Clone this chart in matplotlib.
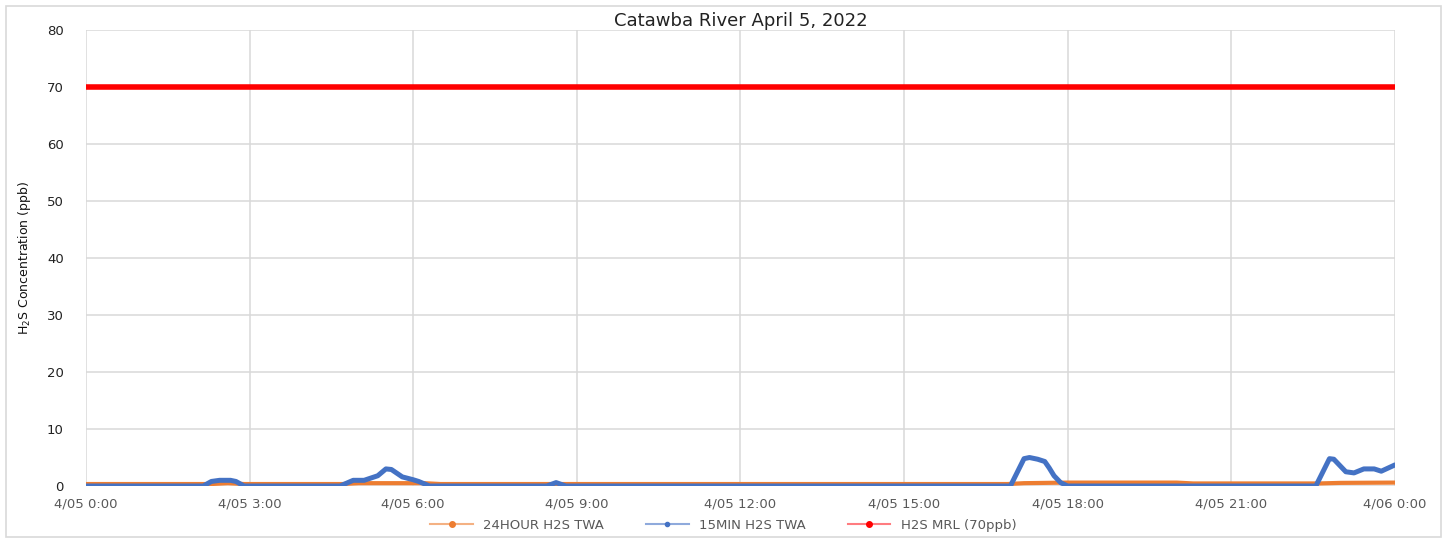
import matplotlib.pyplot as plt
from matplotlib.lines import Line2D
from matplotlib.patches import Rectangle

# hours since 4/05 0:00
twa15_hours = [0, 2.15, 2.3, 2.45, 2.65, 2.75, 2.9, 4.66, 4.9, 5.1, 5.35, 5.5, 5.6,
               5.8, 6.0, 6.1, 6.3, 8.45, 8.62, 8.8, 16.95, 17.2, 17.3, 17.45, 17.58,
               17.66, 17.75, 17.87, 18.0, 22.55, 22.8, 22.88, 23.1, 23.25, 23.43,
               23.62, 23.75, 24.0]
twa15_vals = [0, 0, 0.8, 1.0, 1.0, 0.8, 0, 0, 1.0, 1.0, 1.8, 3.0, 2.9,
              1.6, 1.1, 0.8, 0, 0, 0.6, 0, 0, 4.8, 5.0, 4.7, 4.3,
              3.2, 1.8, 0.6, 0, 0, 4.8, 4.7, 2.5, 2.3, 3.0,
              3.0, 2.6, 3.7]

twa24_hours = [0, 2.3, 2.6, 2.9, 4.7, 5.0, 6.2, 6.5, 16.9, 17.2, 18.0, 20.0, 20.3, 22.6, 23.0, 24.0]
twa24_vals = [0.35, 0.35, 0.5, 0.35, 0.35, 0.5, 0.5, 0.35, 0.35, 0.5, 0.6, 0.6, 0.45, 0.45, 0.55, 0.6]

mrl_hours = [0, 24]
mrl_vals = [70, 70]

xtick_hours = [0, 3, 6, 9, 12, 15, 18, 21, 24]
xtick_labels = ["4/05 0:00", "4/05 3:00", "4/05 6:00", "4/05 9:00", "4/05 12:00",
                "4/05 15:00", "4/05 18:00", "4/05 21:00", "4/06 0:00"]
ytick_vals = [0, 10, 20, 30, 40, 50, 60, 70, 80]

c_orange = "#ED7D31"
c_blue = "#4472C4"
c_red = "#FF0000"
txt = "#595959"

fig = plt.figure(figsize=(14.47, 5.39), dpi=100)
ax = fig.add_axes([0.0594, 0.0983, 0.9046, 0.846])

ax.plot(twa24_hours, twa24_vals, color=c_orange, lw=3, solid_capstyle="round", zorder=3)
ax.plot(twa15_hours, twa15_vals, color=c_blue, lw=3.6, solid_joinstyle="round",
        solid_capstyle="round", zorder=4)
ax.plot(mrl_hours, mrl_vals, color=c_red, lw=4, solid_capstyle="round", zorder=5)

ax.set_xlim(0, 24)
ax.set_ylim(0, 80)
ax.set_xticks(xtick_hours)
ax.set_xticklabels(xtick_labels, fontsize=9.5, color=txt)
ax.set_yticks(ytick_vals)
ax.set_yticklabels([str(v) for v in ytick_vals], fontsize=9.5, color="#222222")
ax.tick_params(length=0, pad=8)
ax.tick_params(axis="y", pad=16)
ax.grid(True, color="#d9d9d9", lw=1.1)
ax.set_axisbelow(True)
for s in ax.spines.values():
    s.set_visible(False)

ax.set_ylabel("H$_2$S Concentration (ppb)", fontsize=9, color="#111111", labelpad=10)
ax.set_title("Catawba River April 5, 2022", fontsize=13, color="#222222", pad=2)

handles = [
    Line2D([], [], color="#F4B183", lw=1.5, marker="o", markersize=4,
           markerfacecolor=c_orange, markeredgecolor=c_orange),
    Line2D([], [], color="#8FAADC", lw=1.5, marker="o", markersize=3,
           markerfacecolor=c_blue, markeredgecolor=c_blue),
    Line2D([], [], color="#FF7C80", lw=1.5, marker="o", markersize=4,
           markerfacecolor=c_red, markeredgecolor=c_red),
]
labels = ["24HOUR H2S TWA", "15MIN H2S TWA", "H2S MRL (70ppb)"]
leg = fig.legend(handles, labels, loc="center", bbox_to_anchor=(0.5, 0.025), ncol=3,
                 frameon=False, fontsize=9.5, handlelength=3.2, columnspacing=3.2)
for t in leg.get_texts():
    t.set_color(txt)

fig.patches.append(Rectangle((0.004, 0.004), 0.992, 0.985, transform=fig.transFigure,
                             fill=False, edgecolor="#d9d9d9", lw=1.2))

fig.savefig("out.png", dpi=100)
